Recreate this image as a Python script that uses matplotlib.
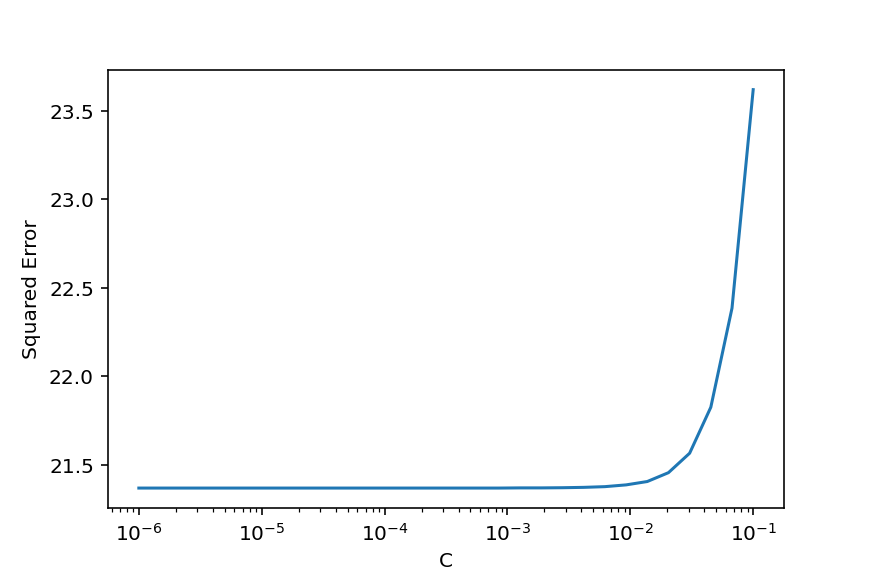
import matplotlib
matplotlib.use("Agg")
import matplotlib.pyplot as plt

# valores de C (rejilla logaritmica) y error cuadratico
c_vals = [1.000e-6, 1.487e-6, 2.212e-6, 3.290e-6, 4.894e-6, 7.279e-6,
          1.083e-5, 1.610e-5, 2.395e-5, 3.562e-5, 5.298e-5, 7.880e-5,
          1.172e-4, 1.743e-4, 2.593e-4, 3.857e-4, 5.736e-4, 8.532e-4,
          1.269e-3, 1.887e-3, 2.807e-3, 4.175e-3, 6.210e-3, 9.237e-3,
          1.374e-2, 2.043e-2, 3.039e-2, 4.520e-2, 6.723e-2, 1.000e-1]
errores = [21.368, 21.368, 21.368, 21.368, 21.368, 21.368,
           21.368, 21.368, 21.368, 21.368, 21.368, 21.368,
           21.368, 21.368, 21.368, 21.368, 21.368, 21.368,
           21.369, 21.369, 21.370, 21.372, 21.376, 21.386,
           21.405, 21.455, 21.565, 21.825, 22.385, 23.620]

fig = plt.figure(figsize=(6, 4), dpi=145.33)
fig.subplots_adjust(left=0.124, right=0.899, top=0.8795, bottom=0.1256)
ax = fig.add_subplot(111)
ax.plot(c_vals, errores)
ax.set_xscale("log")
ax.set_xlabel("C")
ax.set_ylabel("Squared Error")
fig.savefig("out.png")
